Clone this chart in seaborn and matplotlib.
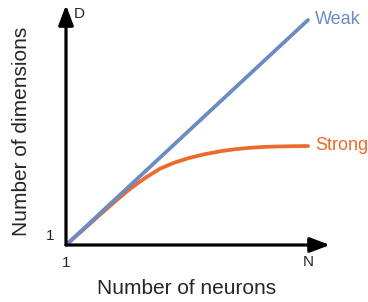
import matplotlib
matplotlib.use("Agg")
import matplotlib.pyplot as plt
import seaborn as sns
import pandas as pd

# neurons scaled to [0, 1] from 1 to N; dimensions scaled so that the weak line ends at 1
neurons = [0.0, 0.06, 0.14, 0.21, 0.26, 0.30, 0.33, 0.39, 0.45, 0.51, 0.57, 0.64, 0.70, 0.76, 0.82, 0.88, 0.94, 1.0]
weak_dims = [0.0, 0.06, 0.14, 0.21, 0.26, 0.30, 0.33, 0.39, 0.45, 0.51, 0.57, 0.64, 0.70, 0.76, 0.82, 0.88, 0.94, 1.0]
strong_dims = [0.0, 0.057, 0.134, 0.200, 0.245, 0.277, 0.300, 0.340, 0.367, 0.387, 0.403, 0.417, 0.426, 0.432, 0.436, 0.438, 0.439, 0.44]

df = pd.DataFrame({
    "neurons": neurons * 2,
    "dims": weak_dims + strong_dims,
    "regime": ["Weak"] * len(neurons) + ["Strong"] * len(neurons),
})

BLUE = "#6B8CC2"
ORANGE = "#EC6A2C"

sns.set_style("white")
plt.rcParams["font.family"] = ["Liberation Sans", "DejaVu Sans"]

fig = plt.figure(figsize=(3.68, 3.02), dpi=100)
ax = fig.add_axes([66 / 368, 57 / 302, 264 / 368, 240 / 302])

sns.lineplot(data=df[df.regime == "Strong"], x="neurons", y="dims", color=ORANGE,
             linewidth=2.7, ax=ax, legend=False)
sns.lineplot(data=df[df.regime == "Weak"], x="neurons", y="dims", color=BLUE,
             linewidth=2.7, ax=ax, legend=False)

ax.set_xlim(0, 264 / 242)
ax.set_ylim(0, 240 / 225)
for s in ax.spines.values():
    s.set_visible(False)
ax.set_xticks([])
ax.set_yticks([])
ax.set_xlabel("")
ax.set_ylabel("")

# arrow axes
arrow = dict(arrowstyle="-|>,head_length=1.2,head_width=0.45", color="black", lw=2.3,
             shrinkA=0, shrinkB=0)
ax.annotate("", xy=(1, 0), xytext=(0, 0), xycoords="axes fraction", arrowprops=arrow)
ax.annotate("", xy=(0, 1), xytext=(0, 0), xycoords="axes fraction", arrowprops=arrow)

ax.text(0, -0.045, "1", ha="center", va="top", fontsize=11, transform=ax.transAxes)
ax.text(-0.045, 0.01, "1", ha="right", va="bottom", fontsize=11, transform=ax.transAxes)
ax.text(1.0, -0.045, "N", ha="center", va="top", fontsize=11)
ax.text(0.03, 0.99, "D", ha="left", va="top", fontsize=11, transform=ax.transAxes)
ax.text(1.0 + 0.03, 1.0, "Weak", color=BLUE, ha="left", va="center", fontsize=13)
ax.text(1.0 + 0.03, 0.44, "Strong", color=ORANGE, ha="left", va="center", fontsize=13)

fig.text(187 / 368, 1 - 288 / 302, "Number of neurons", ha="center", va="center", fontsize=15)
fig.text(22 / 368, 1 - 131 / 302, "Number of dimensions", ha="center", va="center",
         rotation=90, fontsize=15)

fig.savefig("out.png", dpi=100)
